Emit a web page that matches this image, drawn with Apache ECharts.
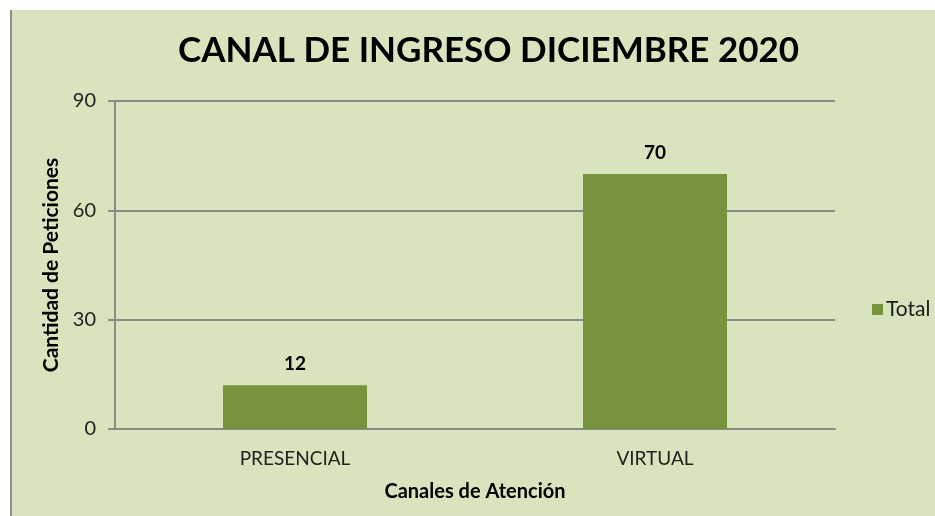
<!DOCTYPE html>
<html>
<head>
<meta charset="utf-8">
<script src="https://cdn.jsdelivr.net/npm/echarts@6/dist/echarts.min.js"></script>
<style>
  html, body { margin: 0; padding: 0; background: #ffffff; }
  #chart {
    position: absolute; left: 10px; top: 10px;
    width: 925px; height: 506px;
    border-left: 2px solid #8e8e8e;
    background: #d7e4bd;
  }
</style>
</head>
<body>
<div id="chart"></div>
<script>
// data
const categories = ['PRESENCIAL', 'VIRTUAL'];
const totals = [12, 70];
const yTicks = [0, 30, 60, 90];

const chart = echarts.init(document.getElementById('chart'));
const font = 'Lato, "Open Sans", sans-serif';

chart.setOption({
  backgroundColor: 'transparent',
  title: {
    text: 'CANAL DE INGRESO DICIEMBRE 2020',
    left: 161,
    top: 18,
    textStyle: { fontFamily: font, fontSize: 35, fontWeight: 'bold', color: '#000' }
  },
  legend: {
    left: 855,
    top: 284,
    orient: 'vertical',
    itemWidth: 11,
    itemHeight: 11,
    itemGap: 6,
    icon: 'rect',
    data: ['Total'],
    textStyle: { fontFamily: font, fontSize: 21, color: '#1a1a1a', padding: [0, 0, 0, -2] }
  },
  grid: { left: 103, right: 102, top: 91, bottom: 87 },
  xAxis: {
    type: 'category',
    data: categories,
    name: 'Canales de Atención',
    nameLocation: 'middle',
    nameGap: 53,
    nameTextStyle: { fontFamily: font, fontSize: 20, fontWeight: 'bold', color: '#000' },
    axisLine: { lineStyle: { color: '#8a8a8a', width: 2 } },
    axisTick: { show: false },
    axisLabel: { fontFamily: font, fontSize: 19, color: '#222', margin: 20 }
  },
  yAxis: {
    type: 'value',
    min: yTicks[0],
    max: yTicks[yTicks.length - 1],
    interval: 30,
    name: 'Cantidad de Peticiones',
    nameLocation: 'middle',
    nameGap: 53,
    nameTextStyle: { fontFamily: font, fontSize: 21, fontWeight: 'bold', color: '#000' },
    axisLine: { show: true, lineStyle: { color: '#8a8a8a', width: 2 } },
    axisTick: { show: true, length: 7, lineStyle: { color: '#8a8a8a', width: 2 } },
    axisLabel: { fontFamily: font, fontSize: 20, color: '#222', margin: 19 },
    splitLine: { lineStyle: { color: '#8a8a8a', width: 2 } }
  },
  series: [{
    name: 'Total',
    type: 'bar',
    data: totals,
    barWidth: '40%',
    itemStyle: { color: '#77933c' },
    label: {
      show: true,
      position: 'top',
      distance: 12,
      fontFamily: font,
      fontSize: 19,
      fontWeight: 'bold',
      color: '#000'
    }
  }]
});
</script>
</body>
</html>
